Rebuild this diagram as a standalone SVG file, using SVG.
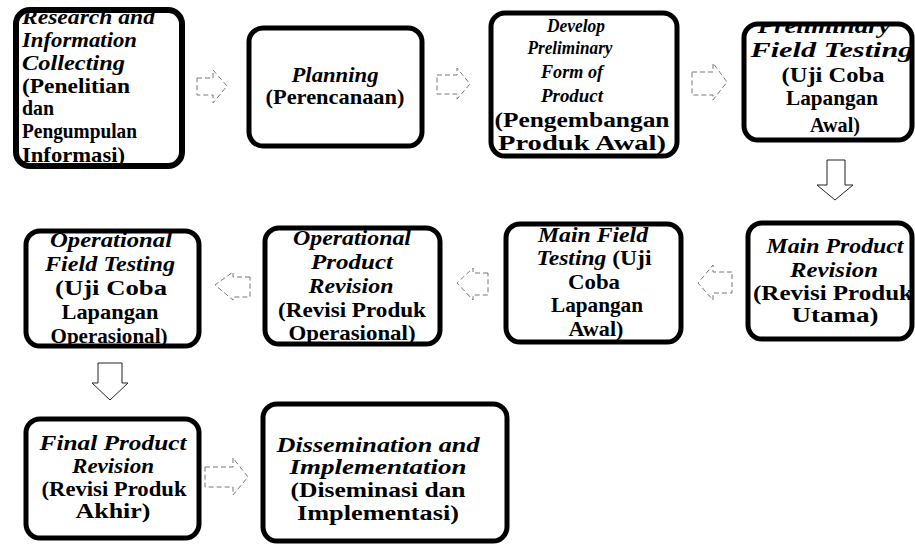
<svg xmlns="http://www.w3.org/2000/svg" width="915" height="545" viewBox="0 0 915 545">
<style>
.box{fill:#fff;stroke:#000;stroke-width:5}
.t{font-family:"Liberation Serif","Times New Roman",serif;font-size:21px;font-weight:bold;fill:#000;text-anchor:middle}
.s19{font-size:19.5px}
.s20{font-size:20px}
.l{text-anchor:start}
.en{font-style:italic}
.arr{fill:none;stroke:#777;stroke-width:1;stroke-dasharray:5 3}
.arrs{fill:none;stroke:#222;stroke-width:1}
</style>
<defs>
<clipPath id="c1"><rect x="18" y="13" width="162" height="151" rx="12"/></clipPath>
<clipPath id="c4"><rect x="744" y="25" width="168" height="114" rx="14"/></clipPath>
<clipPath id="c5"><rect x="26" y="232" width="173" height="113" rx="14"/></clipPath>
<clipPath id="c6"><rect x="265" y="229" width="175" height="114" rx="14"/></clipPath>
<clipPath id="c7"><rect x="506" y="225" width="175" height="116" rx="14"/></clipPath>
</defs>
<rect width="915" height="545" fill="#fff"/>

<g id="connectors">
<path class="arr" d="M197,78 H213 V70 L227,86 L213,103 V95 H197 Z"/>
<path class="arr" d="M437,75 H457 V68 L470,84 L457,99 V94 H437 Z"/>
<path class="arr" d="M692,72 H713 V63 L727,82 L713,100 V95 H692 Z"/>
<path class="arrs" d="M827,160 H845 V185 H853 L835,200 L817,185 H827 Z"/>
<path class="arr" d="M250,277 H233 V272 L215,285 L233,300 V297 H250 Z"/>
<path class="arr" d="M488,273 H473 V268 L457,283 L473,300 V295 H488 Z"/>
<path class="arr" d="M732,272 H713 V265 L698,283 L713,300 V293 H732 Z"/>
<path class="arrs" d="M98,363 H122 V383 H128 L110,400 L92,383 H98 Z"/>
<path class="arr" d="M205,467 H233 V458 L248,477 L233,495 V487 H205 Z"/>
</g>

<g id="n1">
<rect class="box" x="16" y="10" width="166" height="156" rx="14" style="stroke-width:6"/>
<g clip-path="url(#c1)">
<text class="t l en" x="22" y="24" textLength="133" lengthAdjust="spacingAndGlyphs">Research and</text>
<text class="t l en" x="22" y="47" textLength="115" lengthAdjust="spacingAndGlyphs">Information</text>
<text class="t l en" x="22" y="70" textLength="103" lengthAdjust="spacingAndGlyphs">Collecting</text>
<text class="t l" x="22" y="93" textLength="108" lengthAdjust="spacingAndGlyphs">(Penelitian</text>
<text class="t l" x="22" y="115" textLength="32" lengthAdjust="spacingAndGlyphs">dan</text>
<text class="t l" x="22" y="138" textLength="115" lengthAdjust="spacingAndGlyphs">Pengumpulan</text>
<text class="t l" x="22" y="162" textLength="103" lengthAdjust="spacingAndGlyphs">Informasi)</text>
</g>
</g>

<g id="n2">
<rect class="box" x="249" y="28" width="173" height="118" rx="14"/>
<text class="t en" x="335" y="82" textLength="87" lengthAdjust="spacingAndGlyphs">Planning</text>
<text class="t" x="335" y="104" textLength="139" lengthAdjust="spacingAndGlyphs">(Perencanaan)</text>
</g>

<g id="n3">
<rect class="box" x="491" y="13" width="186" height="143" rx="14"/>
<text class="t en s19" x="576" y="32" textLength="58" lengthAdjust="spacingAndGlyphs">Develop</text>
<text class="t en s19" x="570" y="54" textLength="85" lengthAdjust="spacingAndGlyphs">Preliminary</text>
<text class="t en s19" x="572" y="78" textLength="62" lengthAdjust="spacingAndGlyphs">Form of</text>
<text class="t en s19" x="572" y="102" textLength="62" lengthAdjust="spacingAndGlyphs">Product</text>
<text class="t" x="582" y="127" textLength="175" lengthAdjust="spacingAndGlyphs">(Pengembangan</text>
<text class="t" x="582" y="150" textLength="168" lengthAdjust="spacingAndGlyphs">Produk Awal)</text>
</g>

<g id="n4">
<rect class="box" x="744" y="24" width="168" height="116" rx="14"/>
<g clip-path="url(#c4)">
<text class="t en" x="824" y="33" textLength="133" lengthAdjust="spacingAndGlyphs">Preliminary</text>
<text class="t en" x="832" y="57" textLength="163" lengthAdjust="spacingAndGlyphs">Field Testing</text>
<text class="t" x="833" y="82" textLength="103" lengthAdjust="spacingAndGlyphs">(Uji Coba</text>
<text class="t" x="832" y="105" textLength="92" lengthAdjust="spacingAndGlyphs">Lapangan</text>
<text class="t" x="835" y="132" textLength="50" lengthAdjust="spacingAndGlyphs">Awal)</text>
</g>
</g>

<g id="n5">
<rect class="box" x="26" y="231" width="173" height="115" rx="14"/>
<g clip-path="url(#c5)">
<text class="t en" x="111" y="247" textLength="122" lengthAdjust="spacingAndGlyphs">Operational</text>
<text class="t en" x="110" y="271" textLength="130" lengthAdjust="spacingAndGlyphs">Field Testing</text>
<text class="t" x="111" y="295" textLength="112" lengthAdjust="spacingAndGlyphs">(Uji Coba</text>
<text class="t" x="110" y="319" textLength="97" lengthAdjust="spacingAndGlyphs">Lapangan</text>
<text class="t" x="109" y="343" textLength="117" lengthAdjust="spacingAndGlyphs">Operasional)</text>
</g>
</g>

<g id="n6">
<rect class="box" x="265" y="228" width="175" height="116" rx="14"/>
<g clip-path="url(#c6)">
<text class="t en" x="352" y="245" textLength="118" lengthAdjust="spacingAndGlyphs">Operational</text>
<text class="t en" x="352" y="269" textLength="82" lengthAdjust="spacingAndGlyphs">Product</text>
<text class="t en" x="351" y="293" textLength="85" lengthAdjust="spacingAndGlyphs">Revision</text>
<text class="t" x="352" y="317" textLength="148" lengthAdjust="spacingAndGlyphs">(Revisi Produk</text>
<text class="t" x="352" y="340" textLength="127" lengthAdjust="spacingAndGlyphs">Operasional)</text>
</g>
</g>

<g id="n7">
<rect class="box" x="506" y="224" width="175" height="118" rx="14"/>
<g clip-path="url(#c7)">
<text class="t en" x="593" y="242" textLength="110" lengthAdjust="spacingAndGlyphs">Main Field</text>
<text class="t" x="594" y="265" textLength="115" lengthAdjust="spacingAndGlyphs"><tspan class="en">Testing</tspan> (Uji</text>
<text class="t" x="594" y="289" textLength="52" lengthAdjust="spacingAndGlyphs">Coba</text>
<text class="t" x="597" y="312" textLength="92" lengthAdjust="spacingAndGlyphs">Lapangan</text>
<text class="t" x="596" y="336" textLength="55" lengthAdjust="spacingAndGlyphs">Awal)</text>
</g>
</g>

<g id="n8">
<rect class="box" x="748" y="223" width="164" height="116" rx="14"/>
<text class="t en" x="835" y="253" textLength="137" lengthAdjust="spacingAndGlyphs">Main Product</text>
<text class="t en" x="834" y="277" textLength="88" lengthAdjust="spacingAndGlyphs">Revision</text>
<text class="t" x="833" y="300" textLength="160" lengthAdjust="spacingAndGlyphs">(Revisi Produk</text>
<text class="t" x="835" y="322" textLength="87" lengthAdjust="spacingAndGlyphs">Utama)</text>
</g>

<g id="n9">
<rect class="box" x="26" y="419" width="173" height="119" rx="14"/>
<text class="t en" x="113" y="450" textLength="147" lengthAdjust="spacingAndGlyphs">Final Product</text>
<text class="t en" x="113" y="473" textLength="82" lengthAdjust="spacingAndGlyphs">Revision</text>
<text class="t" x="114" y="496" textLength="145" lengthAdjust="spacingAndGlyphs">(Revisi Produk</text>
<text class="t" x="113" y="518" textLength="75" lengthAdjust="spacingAndGlyphs">Akhir)</text>
</g>

<g id="n10">
<rect class="box" x="263" y="404" width="244" height="137" rx="14"/>
<text class="t en s20" x="378" y="452" textLength="203" lengthAdjust="spacingAndGlyphs">Dissemination and</text>
<text class="t en s20" x="378" y="474" textLength="177" lengthAdjust="spacingAndGlyphs">Implementation</text>
<text class="t s20" x="378" y="497" textLength="175" lengthAdjust="spacingAndGlyphs">(Diseminasi dan</text>
<text class="t s20" x="378" y="520" textLength="162" lengthAdjust="spacingAndGlyphs">Implementasi)</text>
</g>
</svg>
